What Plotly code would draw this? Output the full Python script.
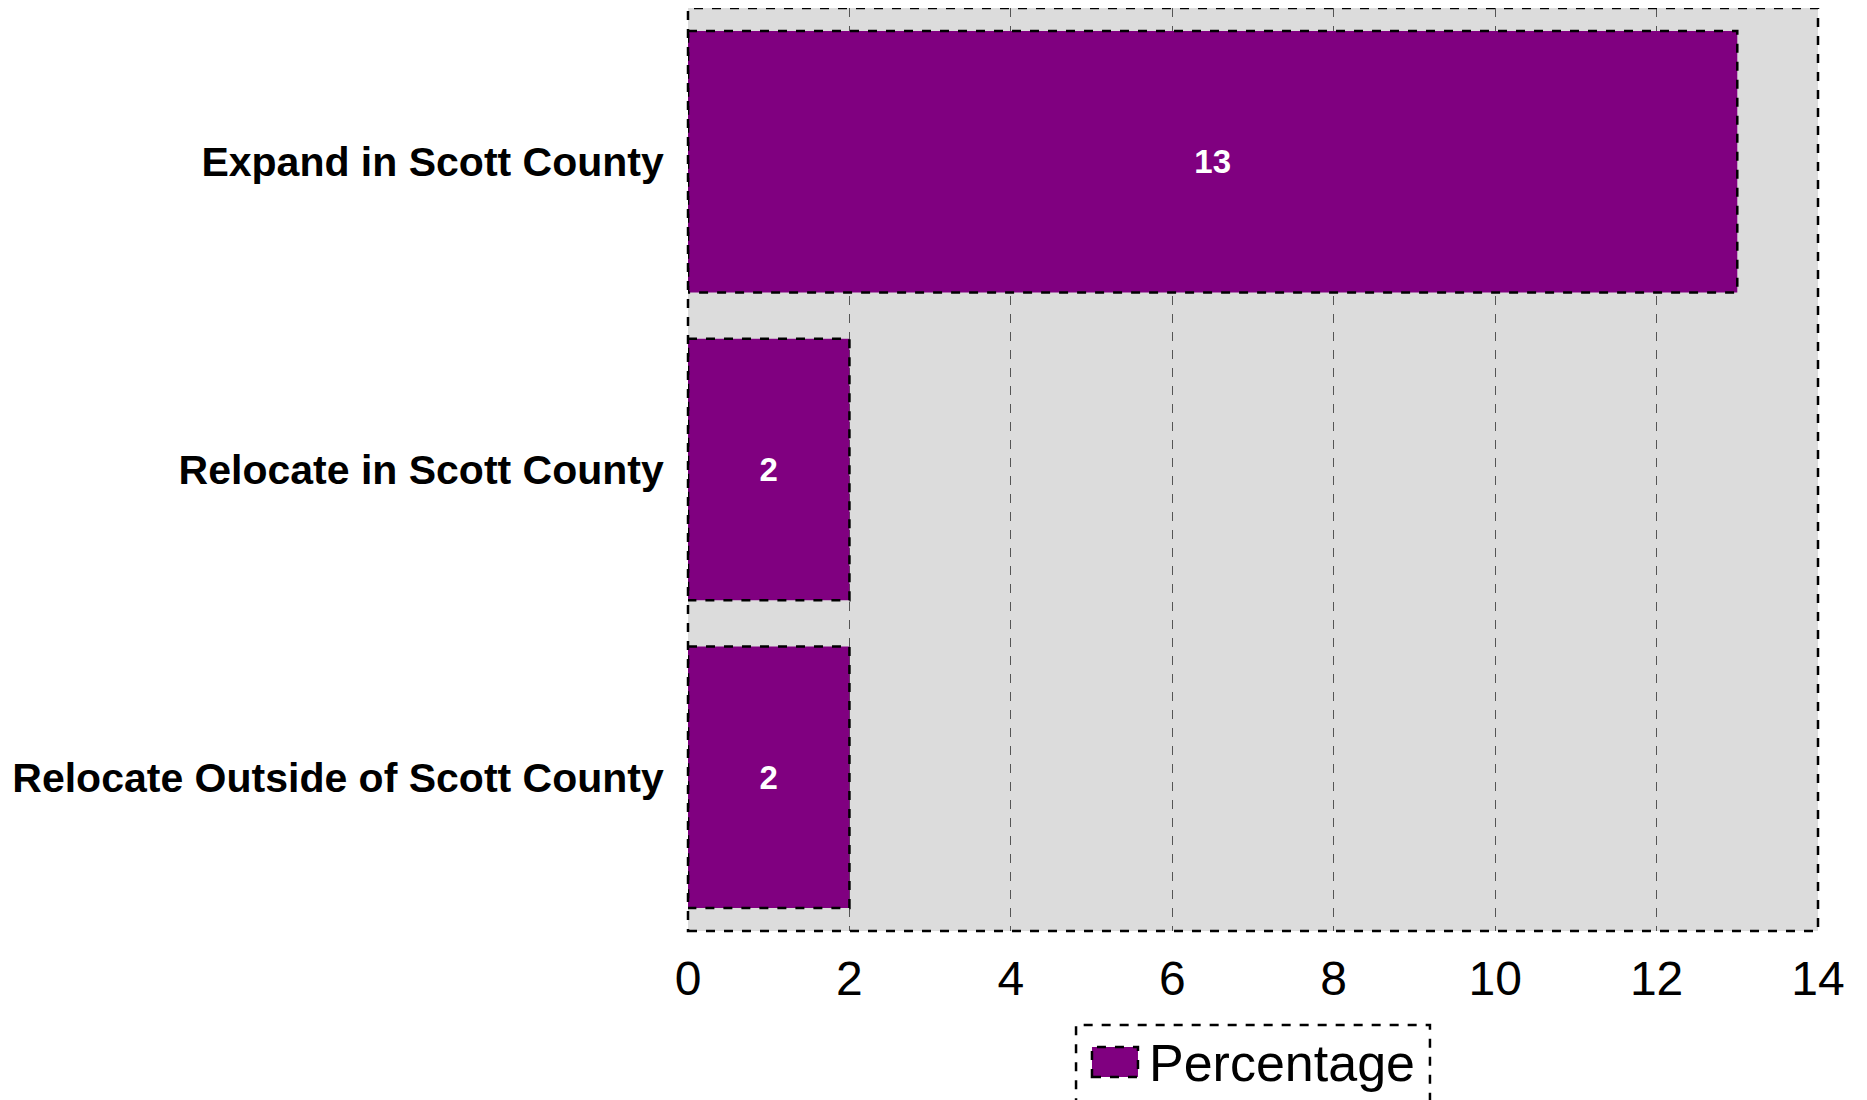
import plotly.graph_objects as go

categories = ["Expand in Scott County", "Relocate in Scott County", "Relocate Outside of Scott County"]
values = [13, 2, 2]
series_name = "Percentage"
x_ticks = [0, 2, 4, 6, 8, 10, 12, 14]

BAR_COLOR = "#800080"
BAR_WIDTH = 0.85
FONT = "Liberation Sans, Arial"

fig = go.Figure()
fig.add_trace(go.Bar(
    x=values, y=categories, orientation="h", name=series_name,
    marker=dict(color=BAR_COLOR, line=dict(width=0)),
    width=BAR_WIDTH, showlegend=False,
    text=[str(v) for v in values], textposition="inside", insidetextanchor="middle",
    textfont=dict(family=FONT, size=33, color="white", weight="bold"),
))

shapes = []
# dashed outlines for bars, derived from the data
for i, v in enumerate(values):
    shapes.append(dict(type="rect", xref="x", yref="y",
                       x0=0, x1=v, y0=i - BAR_WIDTH / 2, y1=i + BAR_WIDTH / 2,
                       line=dict(color="black", width=2.5, dash="dash"),
                       layer="above"))
# dashed plot border
shapes.append(dict(type="rect", xref="paper", yref="paper", x0=0, x1=1, y0=0, y1=1,
                   line=dict(color="black", width=2.5, dash="dash"), layer="above"))
# legend box (dashed border) and legend key
shapes.append(dict(type="rect", xref="paper", yref="paper",
                   x0=0.3434, x1=0.6566, y0=-0.25, y1=-0.1018,
                   line=dict(color="black", width=2.5, dash="dash")))
shapes.append(dict(type="rect", xref="paper", yref="paper",
                   x0=0.3575, x1=0.3982, y0=-0.1582, y1=-0.1257,
                   fillcolor=BAR_COLOR,
                   line=dict(color="black", width=2.5, dash="dash")))

annotations = [dict(xref="paper", yref="paper", x=0.4062, y=-0.1425,
                    xanchor="left", yanchor="middle", showarrow=False,
                    text=series_name, font=dict(family=FONT, size=52, color="black"))]

fig.update_layout(
    width=1867, height=1100,
    margin=dict(l=680, r=57, t=0, b=177),
    paper_bgcolor="white", plot_bgcolor="#dcdcdc",
    font=dict(family=FONT, color="black"),
    bargap=0.15,
    showlegend=False,
    xaxis=dict(range=[0, 14], tickvals=x_ticks, ticktext=[str(t) for t in x_ticks],
               showgrid=True, gridcolor="#555555", griddash="dash", gridwidth=1,
               zeroline=False, showline=False,
               ticks="outside", ticklen=5, tickcolor="rgba(0,0,0,0)",
               tickfont=dict(size=48)),
    yaxis=dict(autorange="reversed", showgrid=False, zeroline=False, showline=False,
               ticks="outside", ticklen=15, tickcolor="rgba(0,0,0,0)",
               tickfont=dict(size=41, weight="bold")),
    shapes=shapes,
    annotations=annotations,
)

fig.write_html("out.html")
